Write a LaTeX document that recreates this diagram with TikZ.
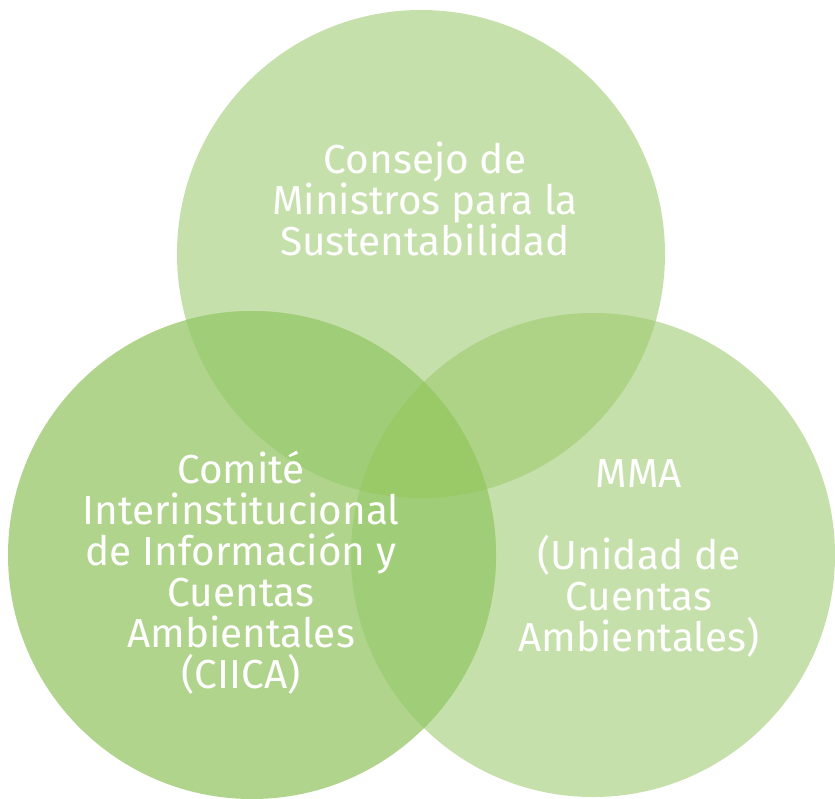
\documentclass[tikz,border=0pt]{standalone}
\usepackage{fontspec}
\setmainfont{Fira Sans}
\definecolor{paleGreen}{HTML}{C6E0AB}
\definecolor{midGreen}{HTML}{B0D48C}
\definecolor{pairLeft}{HTML}{A0CE78}
\definecolor{pairRight}{HTML}{AED386}
\definecolor{coreGreen}{HTML}{9ACA68}
\tikzset{
  label text/.style={text=white, align=center, inner sep=0pt,
    font=\fontsize{40.5}{41}\selectfont, anchor=north}
}
\newcommand{\topCirc}{(421,254) circle (244)}
\newcommand{\leftCirc}{(252,555) circle (244)}
\newcommand{\rightCirc}{(593,555) circle (242)}
\begin{document}
\begin{tikzpicture}[x=1pt,y=-1pt]
\useasboundingbox (0,0) rectangle (835,798);
% the three circles
\fill [paleGreen] \topCirc;
\fill [paleGreen] \rightCirc;
\fill [midGreen] \leftCirc;
% pairwise overlaps
\begin{scope}
\clip \topCirc;
\fill [pairLeft] \leftCirc;
\fill [pairRight] \rightCirc;
\end{scope}
\begin{scope}
\clip \leftCirc;
\fill [pairLeft] \rightCirc;
\end{scope}
% common part
\begin{scope}
\clip \topCirc;
\clip \leftCirc;
\fill [coreGreen] \rightCirc;
\end{scope}
% labels
\node [label text] (consejo) at (425,142) {Consejo de\\Ministros para la\\Sustentabilidad};
\node [label text] (ciica) at (241,451) {Comité\\Interinstitucional\\de Información y\\Cuentas\\Ambientales\\(CIICA)};
\node [label text] (mma) at (639,459) {MMA\\[41pt](Unidad de\\Cuentas\\Ambientales)};
\end{tikzpicture}
\end{document}
